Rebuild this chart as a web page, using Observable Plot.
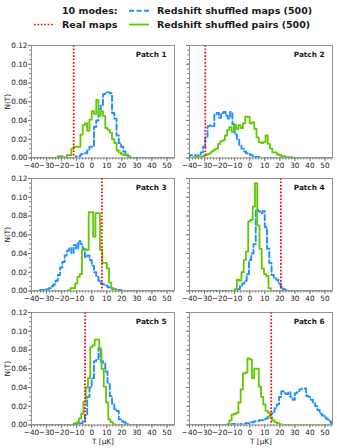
<!DOCTYPE html>
<html><head><meta charset="utf-8">
<script src="https://cdn.jsdelivr.net/npm/d3@7"></script>
<script src="https://cdn.jsdelivr.net/npm/@observablehq/plot@0.6"></script>
<style>
html,body{margin:0;padding:0;background:#fff;}
#chart{position:relative;width:337px;height:448px;overflow:hidden;font-family:"DejaVu Sans",sans-serif;}
.panel{position:absolute;}
</style></head><body><div id="chart"></div>
<script>
// ---------- data ----------
const binWidth = 1.5;
const xDomain = [-40, 55];
const yDomain = [0, 0.12];
const xTicks = [-40, -30, -20, -10, 0, 10, 20, 30, 40, 50];
const yTicks = [0, 0.02, 0.04, 0.06, 0.08, 0.10, 0.12];
const patchNames = ["Patch 1", "Patch 2", "Patch 3", "Patch 4", "Patch 5", "Patch 6"];
const legendTitle = "10 modes:";
const legendLabels = ["Real maps", "Redshift shuffled maps (500)", "Redshift shuffled pairs (500)"];
const xLabel = "T [\u03bcK]";
const yLabel = "N(T)";

// real-map temperature per patch
const realMaps = [-12, -29.5, 6.8, 20.7, -4.4, 14.3];

// shuffled maps (blue dashed): first bin left edge + bin heights
const mapsStart = [-10.5, -40, -34.5, -9.5, -12, -12];
const maps1 = [0.002,0.002,0.004,0.005,0.005,0.008,0.012,0.012,0.033,0.040,0.052,0.056,0.068,0.070,0.070,0.069,0.048,0.042,0.024,0.016,0.012,0.007,0.004,0.001];
const maps2 = [0.003,0.003,0.003,0.002,0.003,0.006,0.012,0.022,0.034,0.035,0.034,0.047,0.048,0.043,0.048,0.049,0.045,0.042,0.049,0.036,0.025,0.020,0.014,0.010,0.007,0.005,0.004,0.003,0.002,0.001,0.001];
const maps3 = [0.001,0.001,0.002,0.002,0.003,0.005,0.007,0.011,0.017,0.025,0.031,0.038,0.043,0.046,0.040,0.049,0.045,0.053,0.050,0.045,0.036,0.038,0.033,0.027,0.020,0.015,0.011,0.008,0.007,0.006,0.004,0.003,0.002,0.002,0.001,0.001];
const maps4 = [0.001,0.002,0.005,0.008,0.011,0.018,0.033,0.040,0.050,0.087,0.085,0.083,0.085,0.068,0.045,0.030,0.017,0.014,0.012,0.008,0.005,0.002,0.001];
const maps5 = [0.001,0.001,0.002,0.002,0.004,0.010,0.030,0.040,0.050,0.068,0.070,0.082,0.068,0.066,0.057,0.045,0.031,0.022,0.017,0.015,0.006,0.004,0.003,0.001];
const maps6 = [0.001,0.001,0.001,0.000,0.001,0.001,0.002,0.002,0.003,0.003,0.004,0.004,0.005,0.005,0.006,0.007,0.010,0.012,0.014,0.018,0.022,0.030,0.036,0.034,0.033,0.035,0.030,0.027,0.034,0.036,0.038,0.039,0.039,0.031,0.030,0.027,0.023,0.020,0.016,0.012,0.010,0.008,0.006,0.004,0.002];

// shuffled pairs (green solid)
const pairsStart = [-22.5, -37.5, -15.5, -10, -11.5, -15];
const pairs1 = [0.002,0.002,0.001,0.000,0.003,0.003,0.010,0.012,0.012,0.012,0.025,0.035,0.037,0.029,0.041,0.050,0.047,0.062,0.045,0.050,0.045,0.032,0.030,0.027,0.020,0.016,0.008,0.006,0.004,0.003,0.003,0.002];
const pairs2 = [0.001,0.001,0.002,0.001,0.002,0.003,0.004,0.005,0.007,0.009,0.010,0.015,0.018,0.019,0.024,0.030,0.033,0.028,0.035,0.031,0.035,0.032,0.037,0.044,0.044,0.037,0.038,0.031,0.022,0.017,0.016,0.017,0.024,0.015,0.010,0.006,0.006,0.004,0.003,0.002,0.002,0.001,0.001,0.001];
const pairs3 = [0.001,0.003,0.003,0.008,0.015,0.018,0.044,0.044,0.044,0.084,0.084,0.058,0.083,0.083,0.044,0.030,0.030,0.024,0.009,0.003,0.002];
const pairs4 = [0.002,0.012,0.011,0.020,0.033,0.042,0.074,0.076,0.090,0.115,0.070,0.045,0.024,0.018,0.016,0.003];
const pairs5 = [0.002,0.003,0.007,0.012,0.025,0.040,0.050,0.083,0.085,0.091,0.091,0.080,0.060,0.041,0.024,0.006,0.003,0.001];
const pairs6 = [0.001,0.005,0.011,0.012,0.013,0.024,0.038,0.055,0.056,0.071,0.070,0.050,0.060,0.060,0.041,0.030,0.022,0.015,0.013,0.008,0.005,0.003,0.002,0.001];

const mapsValues = [maps1, maps2, maps3, maps4, maps5, maps6];
const pairsValues = [pairs1, pairs2, pairs3, pairs4, pairs5, pairs6];

// ---------- styling / layout ----------
const colBlue = "#1e90ff", colGreen = "#62c800", colRed = "#ff0000";
const axisGray = "#7a7a7a", textCol = "#1a1a1a";
const colX = [31, 189.3];
const rowY = [44.7, 178.4, 312];
const frameW = 143, frameH = 112.5;

function stepPoints(start, values) {
  const pts = [{x: xDomain[0], y: 0}];
  values.forEach((v, i) => pts.push({x: start + i * binWidth, y: v}));
  pts.push({x: start + values.length * binWidth, y: 0});
  pts.push({x: xDomain[1] + 2, y: 0});
  return pts;
}
const fmtX = d => (d < 0 ? "\u2212" + Math.abs(d) : String(d));
const xMinor = d3.range(-40, 55, 2);
const yMinor = d3.range(0, 0.1201, 0.005);

const chart = document.getElementById("chart");

// legend
(function () {
  const svg = d3.select(chart).append("svg")
    .attr("width", 337).attr("height", 36)
    .style("position", "absolute").style("left", "0px").style("top", "0px");
  const g = svg.append("g").attr("font-family", "DejaVu Sans").attr("font-weight", "bold")
    .attr("font-size", 9.5).attr("fill", textCol);
  g.append("text").attr("x", 62).attr("y", 14).text(legendTitle);
  g.append("text").attr("x", 62).attr("y", 27.9).text(legendLabels[0]);
  g.append("text").attr("x", 157).attr("y", 14).text(legendLabels[1]);
  g.append("text").attr("x", 157).attr("y", 27.9).text(legendLabels[2]);
  svg.append("line").attr("x1", 34).attr("x2", 53).attr("y1", 24.5).attr("y2", 24.5)
    .attr("stroke", colRed).attr("stroke-width", 1.7).attr("stroke-dasharray", "1.7,1.7");
  svg.append("line").attr("x1", 129).attr("x2", 149).attr("y1", 10.7).attr("y2", 10.7)
    .attr("stroke", colBlue).attr("stroke-width", 1.9).attr("stroke-dasharray", "5,2.6");
  svg.append("line").attr("x1", 129).attr("x2", 149).attr("y1", 24.5).attr("y2", 24.5)
    .attr("stroke", colGreen).attr("stroke-width", 1.8);
})();

patchNames.forEach((name, i) => {
  const col = i % 2, row = Math.floor(i / 2);
  const mL = col === 0 ? 31 : 10, mR = 4, mT = 6, mB = row === 2 ? 26 : 14;
  const marks = [
    Plot.line(stepPoints(mapsStart[i], mapsValues[i]), {x: "x", y: "y", curve: "step-after", stroke: colBlue, strokeWidth: 1.9, strokeDasharray: "5.5,2.8", clip: true}),
    Plot.line(stepPoints(pairsStart[i], pairsValues[i]), {x: "x", y: "y", curve: "step-after", stroke: colGreen, strokeWidth: 1.8, clip: true}),
    Plot.ruleX([realMaps[i]], {stroke: colRed, strokeWidth: 1.7, strokeDasharray: "1.7,1.7"}),
    Plot.frame({stroke: axisGray, strokeWidth: 0.8}),
    Plot.axisX(xMinor, {tickSize: 2, tickFormat: () => "", stroke: axisGray, label: null}),
    Plot.axisX(xTicks, {tickSize: 3.5, tickPadding: 1.5, tickFormat: fmtX, stroke: axisGray, fill: textCol, label: null}),
    Plot.axisY(yMinor, {tickSize: 1.8, tickFormat: () => "", stroke: axisGray, label: null}),
    Plot.axisY(yTicks, {tickSize: 3, tickPadding: 1, tickFormat: col === 0 ? d3.format(".2f") : () => "", stroke: axisGray, fill: textCol, label: null}),
    Plot.text([name], {frameAnchor: "top-right", dx: -8, dy: 9, textAnchor: "end", lineAnchor: "middle", fontWeight: "bold", fill: textCol})
  ];
  if (col === 0) marks.push(Plot.text([yLabel], {frameAnchor: "left", dx: -24, rotate: -90, textAnchor: "middle", lineAnchor: "middle", fill: textCol}));
  if (row === 2) marks.push(Plot.text([xLabel], {frameAnchor: "bottom", dy: 17, textAnchor: "middle", lineAnchor: "middle", fill: textCol}));
  const p = Plot.plot({
    width: mL + frameW + mR,
    height: mT + frameH + mB,
    marginLeft: mL, marginRight: mR, marginTop: mT, marginBottom: mB,
    x: {domain: xDomain, label: null},
    y: {domain: yDomain, label: null},
    style: {background: "transparent", overflow: "visible", fontFamily: "DejaVu Sans", fontSize: "7.3px", color: textCol},
    marks
  });
  const div = document.createElement("div");
  div.className = "panel";
  div.style.left = (colX[col] - mL) + "px";
  div.style.top = (rowY[row] - mT) + "px";
  div.appendChild(p);
  chart.appendChild(div);
});
</script></body></html>
